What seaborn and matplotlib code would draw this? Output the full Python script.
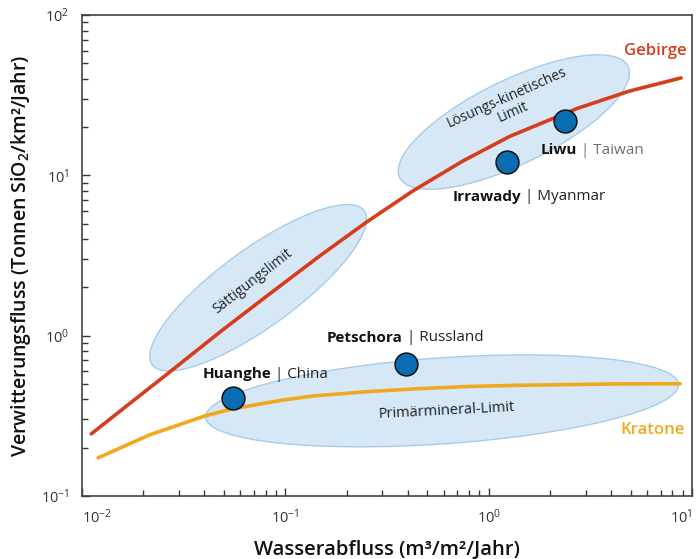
import numpy as np
import pandas as pd
import seaborn as sns
import matplotlib.pyplot as plt
from matplotlib.patches import Ellipse
from matplotlib.transforms import ScaledTranslation

# curves
geb_x = [0.0111, 0.0176, 0.0268, 0.0489, 0.0841, 0.148, 0.252, 0.425, 0.748, 1.27, 2.72, 4.91, 8.84]
geb_y = [0.244, 0.387, 0.589, 1.08, 1.83, 3.15, 5.13, 8.01, 12.3, 17.5, 26.1, 33.5, 40.5]
kra_x = [0.0120, 0.0214, 0.0403, 0.0547, 0.0964, 0.138, 0.25, 0.435, 0.80, 1.36, 4.23, 8.74]
kra_y = [0.173, 0.240, 0.316, 0.349, 0.396, 0.421, 0.447, 0.466, 0.482, 0.490, 0.500, 0.501]

# rivers
flusse = ['Huanghe', 'Petschora', 'Irrawady', 'Liwu']
lander = ['China', 'Russland', 'Myanmar', 'Taiwan']
abfluss = [0.0553, 0.393, 1.23, 2.38]
verwitterung = [0.408, 0.665, 12.1, 21.8]

# limit zones: centre (data), size in inch, angle
zonen = ['Sättigungslimit', 'Lösungs-kinetisches\nLimit', 'Primärmineral-Limit']
zonen_x = [0.0735, 1.33, 0.590]
zonen_y = [1.99, 21.5, 0.392]

RED = '#d63d1e'
ORANGE = '#f1a81e'
BLUE = '#0a6cb2'
FILL = '#d6e8f6'
EDGE = '#a5cceb'

sns.set_theme(style='ticks')
plt.rcParams['font.family'] = ['Open Sans', 'DejaVu Sans']
plt.rcParams['mathtext.default'] = 'regular'

fig = plt.figure(figsize=(6.98, 5.59), dpi=100)
ax = fig.add_axes([0.1175, 0.1127, 0.8739, 0.8605])
ax.set_xscale('log')
ax.set_yscale('log')
ax.set_xticks([1e-2, 1e-1, 1e0, 1e1])
ax.set_yticks([1e-1, 1e0, 1e1, 1e2])
ax.set_xlim(1e-2, 1e1)
ax.set_ylim(1e-1, 1e2)

# ellipses, sized in inches so they look the same as the original
sizes = [(2.62, 0.78, 36), (2.54, 0.84, 26), (4.74, 0.86, 4)]
for cx, cy, (w, h, a) in zip(zonen_x, zonen_y, sizes):
    e = Ellipse((0, 0), w, h, angle=a, facecolor=FILL, edgecolor=EDGE, lw=1,
                transform=fig.dpi_scale_trans + ScaledTranslation(cx, cy, ax.transData),
                zorder=1)
    ax.add_patch(e)

geb = pd.DataFrame({'x': geb_x, 'y': geb_y})
kra = pd.DataFrame({'x': kra_x, 'y': kra_y})
sns.lineplot(data=geb, x='x', y='y', ax=ax, color=RED, lw=2.6, sort=False, zorder=3)
sns.lineplot(data=kra, x='x', y='y', ax=ax, color=ORANGE, lw=2.6, sort=False, zorder=3)

sns.scatterplot(x=abfluss, y=verwitterung, ax=ax, s=270, color=BLUE,
                edgecolor='#111111', linewidth=1.1, zorder=5)

# river labels
offs = [(-22, 17), (-57, 19), (-39, -25), (-18, -21)]
for fl, la, x, y, (dx, dy) in zip(flusse, lander, abfluss, verwitterung, offs):
    t1 = ax.annotate(fl, (x, y), xytext=(dx, dy), textcoords='offset points',
                     fontsize=11, fontweight='bold', color='#111111',
                     ha='left', va='center', zorder=6)
    col = '#6f6f6f' if la == 'Taiwan' else '#222222'
    ax.annotate(' | ' + la, (1, 0.5), xycoords=t1, fontsize=11, color=col,
                ha='left', va='center', zorder=6)

# zone labels
rots = [38, 24, 3]
tx = [0.0693, 1.27, 0.623]
ty = [2.19, 27.5, 0.339]
fs = [10, 10, 10.5]
for z, x, y, r, f in zip(zonen, tx, ty, rots, fs):
    ax.text(x, y, z, fontsize=f, rotation=r, rotation_mode='anchor',
            ha='center', va='center', color='#222222', linespacing=1.0, zorder=6)

ax.text(9.46, 59.7, 'Gebirge', color=RED, fontsize=12, fontweight='semibold',
        ha='right', va='center')
ax.text(9.25, 0.258, 'Kratone', color=ORANGE, fontsize=12, fontweight='semibold',
        ha='right', va='center')

ax.set_xlabel('Wasserabfluss (m³/m²/Jahr)', fontsize=14.5, fontweight='semibold',
              labelpad=9, color='#111111')
ax.set_ylabel('Verwitterungsfluss (Tonnen SiO$_2$/km²/Jahr)', fontsize=14,
              fontweight='semibold', labelpad=6, color='#111111')

ax.tick_params(which='both', direction='in', colors='#333333', labelsize=10.5,
               top=False, right=False)
ax.tick_params(which='major', length=6, width=1, pad=9)
ax.tick_params(which='minor', length=4, width=1)
for s in ax.spines.values():
    s.set_visible(True)
    s.set_linewidth(1.2)
    s.set_color('#444444')

xt = ax.xaxis.get_major_ticks()
xt[0].label1.set_horizontalalignment('left')
xt[-1].label1.set_horizontalalignment('right')

fig.savefig('out.png', dpi=100)
